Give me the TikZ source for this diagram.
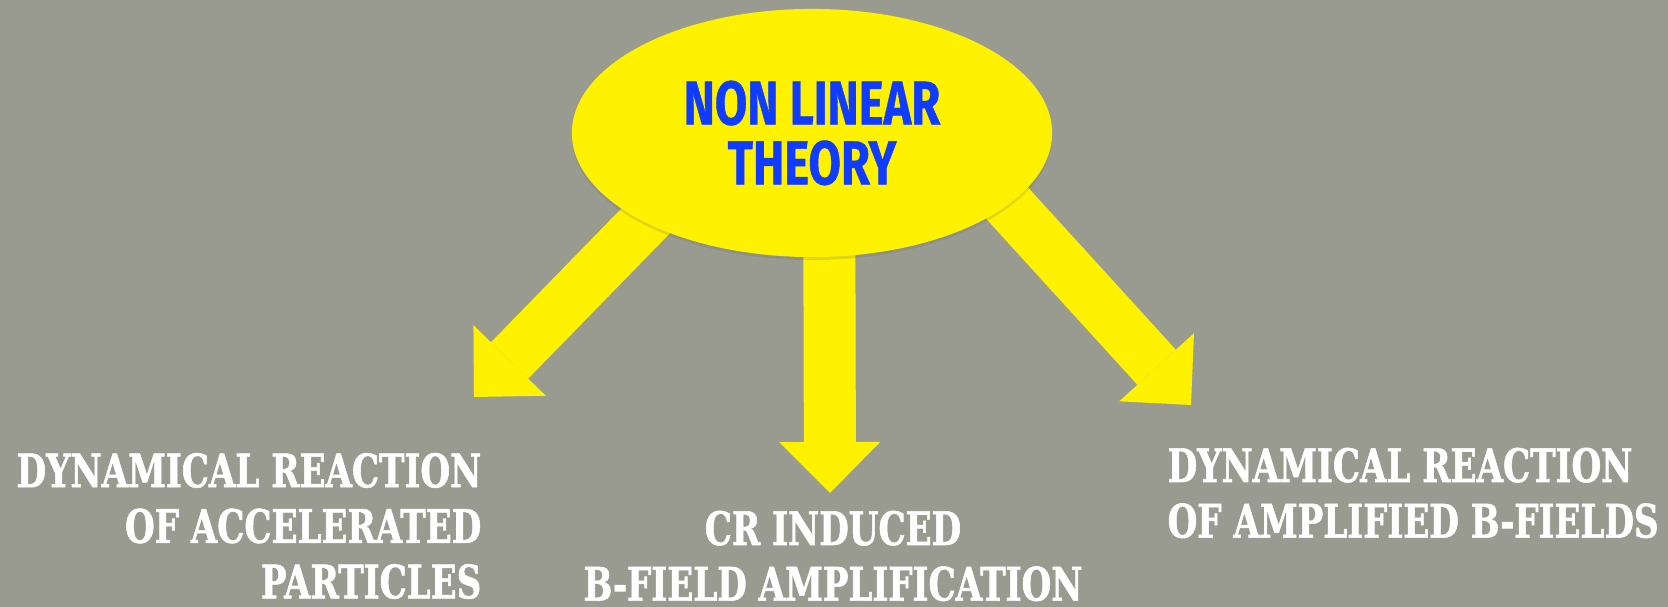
\documentclass[tikz,border=0pt]{standalone}
\usepackage{fontspec}
\usepackage{tikz}
\usetikzlibrary{arrows.meta,shadows,shapes.geometric,backgrounds}
\newfontfamily\westfont[FakeStretch=0.74,FakeBold=1.2]{DejaVu Serif}
\newfontfamily\handfont[FakeStretch=0.76,FakeBold=0.6]{Fira Sans}
\definecolor{slate}{RGB}{153,155,145}
\definecolor{theoryblue}{RGB}{16,60,255}

\begin{document}
\begin{tikzpicture}[x=0.01cm,y=-0.01cm,
  bigarrow/.style={yellow,line width=0.52cm,shorten <=-0.5cm,
    -{Triangle[width=1.01cm,length=0.51cm,line width=0pt]}},
  label/.style={white,inner sep=0pt,font=\westfont\bfseries\fontsize{13.1}{15.8}\selectfont}]
  \useasboundingbox (0,0) rectangle (1668,607);
  % centre bubble
  \node[ellipse,fill=yellow,minimum width=4.8cm,minimum height=2.48cm,inner sep=0pt,outer sep=0pt,
    drop shadow={shadow xshift=0pt,shadow yshift=-0.03cm,opacity=0.2,fill=black!60},
    text=theoryblue,align=center,font=\handfont\bfseries\fontsize{17.6}{17}\selectfont]
    (theory) at (812,133) {NON LINEAR\\THEORY};
  % arrow tips
  \coordinate (lt) at (474,397);
  \coordinate (mt) at (830,493);
  \coordinate (rt) at (1191,405);
  % labels
  \node[label,anchor=east,align=right] (accel) at (482,526) {DYNAMICAL REACTION\\OF ACCELERATED\\PARTICLES};
  \node[label,anchor=center,align=center] (amplif) at (833,556) {CR INDUCED\\B-FIELD AMPLIFICATION};
  \node[label,anchor=west,align=left] (react) at (1167,493) {DYNAMICAL REACTION\\OF AMPLIFIED B-FIELDS};
  % arrows under the bubble
  \begin{pgfonlayer}{background}
    \fill[slate] (0,0) rectangle (1668,607);
    \draw[bigarrow] (theory.208.8) -- (lt);
    \draw[bigarrow] (theory.278.3) -- (mt);
    \draw[bigarrow] (theory.340.5) -- (rt);
  \end{pgfonlayer}
\end{tikzpicture}
\end{document}
